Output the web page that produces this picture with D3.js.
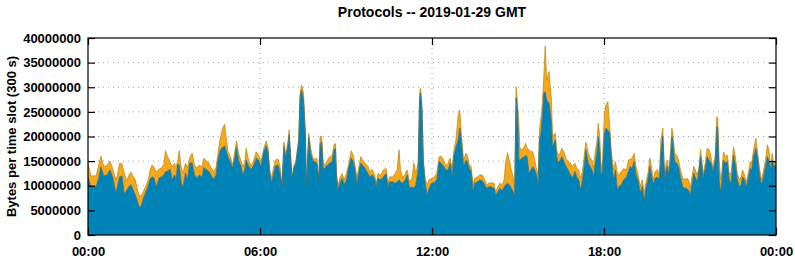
<!DOCTYPE html>
<html>
<head>
<meta charset="utf-8">
<script src="https://d3js.org/d3.v7.min.js"></script>
<style>
  body { margin: 0; background: #fff; }
  svg text { font-family: "Liberation Sans", Arial, sans-serif; font-weight: bold; fill: #000; }
</style>
</head>
<body>
<div id="chart"></div>
<script>
// minutes since 00:00 GMT
const minutes = [
  0,6,17,22,27,33,40,46,52,58,61,66,71,76,81,86,90,94,99,104,108,112,116,121,126,130,134,138,143,149,
  154,159,162,167,172,176,181,184,188,191,195,199,204,208,213,218,223,228,233,239,242,253,257,263,268,
  272,277,282,286,289,293,298,303,307,311,315,320,324,328,331,336,342,347,352,357,362,368,373,377,380,
  384,388,392,398,402,406,410,414,419,421,424,427,431,435,441,444,447,451,455,457,462,466,470,474,479,
  483,486,489,492,495,501,506,511,515,518,520,523,527,532,536,541,546,551,555,559,563,567,571,576,580,
  586,590,595,600,603,607,613,618,624,628,631,638,643,647,651,654,659,664,668,673,678,682,686,691,694,
  696,699,702,706,710,714,719,724,730,735,739,744,749,754,758,762,766,770,775,778,781,786,791,794,798,
  802,806,809,815,820,825,829,834,839,844,850,853,858,862,867,871,874,878,882,886,890,893,896,899,902,
  904,908,913,916,919,923,927,931,935,939,942,945,948,951,954,957,960,965,970,972,975,978,981,984,988,
  992,996,1000,1005,1010,1014,1019,1023,1027,1031,1035,1040,1042,1047,1051,1055,1058,1062,1065,1068,1071,
  1074,1077,1081,1084,1088,1092,1095,1100,1104,1108,1111,1116,1121,1127,1131,1135,1139,1143,1147,1151,
  1156,1160,1164,1168,1172,1176,1180,1183,1187,1192,1196,1199,1203,1207,1210,1212,1215,1219,1222,1224,
  1228,1232,1236,1240,1245,1249,1253,1257,1261,1264,1268,1271,1275,1279,1282,1285,1287,1292,1296,1300,
  1304,1308,1313,1316,1318,1321,1324,1327,1330,1334,1338,1342,1346,1351,1355,1359,1363,1367,1370,1374,
  1378,1382,1386,1389,1393,1398,1402,1406,1410,1414,1418,1422,1425,1429,1432,1435,1440
];

// stacked total, millions of bytes per slot
const totalMB = [
  14.6,12.0,12.0,14.0,16.0,13.8,14.2,15.0,13.4,11.2,12.0,14.6,14.4,12.6,11.0,12.2,12.8,12.0,11.2,8.9,7.9,8.1,8.9,9.9,11.2,13.2,14.2,13.8,12.8,13.4,
  13.6,14.4,17.1,15.8,14.8,13.8,14.6,13.6,15.2,17.1,13.8,12.6,14.6,13.6,15.8,16.6,14.2,13.6,14.2,13.8,15.6,14.6,13.7,12.9,13.7,
  16.6,19.8,21.7,22.5,20.0,16.9,15.9,14.2,16.9,19.1,16.6,15.2,13.9,14.6,17.6,15.2,14.0,15.2,16.9,16.2,14.9,17.6,19.1,17.6,13.5,
  11.5,13.5,15.2,15.4,13.9,10.2,18.9,16.2,19.3,21.3,16.6,11.8,14.2,14.9,19.6,28.8,30.5,28.8,21.0,10.5,20.7,17.6,15.9,15.4,15.6,
  11.5,20.0,20.0,15.2,14.0,15.2,15.9,16.2,18.3,18.6,12.5,9.8,11.5,12.5,11.2,12.5,14.6,17.1,16.2,14.0,11.5,13.9,15.9,14.9,14.6,
  13.9,12.9,13.3,12.2,10.4,12.5,12.2,13.2,13.5,10.2,11.8,11.8,12.5,13.2,17.3,13.2,11.5,12.5,13.2,10.8,11.5,14.6,12.5,14.6,28.8,
  29.8,26.7,15.2,11.2,10.2,11.2,11.5,11.7,12.5,15.9,16.0,15.4,14.0,14.6,15.6,13.5,17.3,19.3,24.4,25.4,21.3,15.2,16.6,16.2,14.2,
  13.9,10.2,11.5,11.8,12.2,12.2,11.5,10.2,10.5,10.6,10.5,8.8,9.8,10.5,10.2,11.2,14.6,16.7,15.2,13.2,11.8,9.1,30.1,27.1,22.0,
  17.6,17.3,17.9,18.6,17.6,17.3,16.9,16.9,15.2,13.2,12.2,21.3,23.7,26.7,32.1,38.4,31.5,33.2,27.4,20.7,20.0,20.7,17.3,16.2,16.6,
  17.6,16.9,15.6,14.9,14.6,13.9,14.6,13.5,13.2,11.5,12.9,17.3,18.9,16.6,15.6,15.2,13.5,17.3,18.6,22.7,20.0,
  13.2,15.2,24.7,26.4,27.1,22.0,17.3,13.2,14.9,12.5,12.2,12.9,13.5,13.2,15.2,15.4,15.6,16.6,13.9,12.5,
  9.8,11.2,8.5,10.8,12.5,15.6,13.5,11.2,12.9,13.3,11.8,19.3,21.7,11.8,14.6,15.2,13.2,16.6,21.7,20.7,
  16.6,16.2,15.2,13.2,11.5,11.3,11.5,11.2,9.5,11.8,13.9,13.2,12.2,13.9,17.4,15.2,12.2,14.6,17.6,17.3,
  15.9,13.5,16.2,24.0,23.7,15.2,11.2,13.2,16.9,15.9,16.2,12.5,12.5,17.9,15.9,12.5,11.2,11.8,13.2,12.2,
  10.8,12.5,14.9,14.6,17.3,19.6,16.2,13.2,11.2,13.2,15.2,18.3,17.3,13.9,16.6,14.6,14.9
];

// lower (blue) series, millions of bytes per slot
const blueMB = [
  11.8,9.9,9.9,11.4,13.8,12.0,12.2,13.2,11.6,8.7,9.5,11.8,12.0,8.3,9.1,9.9,10.2,9.3,8.1,6.7,5.5,6.1,7.5,8.7,9.9,11.4,11.8,11.6,9.7,11.6,
  11.8,12.2,12.8,13.0,13.4,11.2,12.2,11.4,14.4,14.2,10.6,9.7,12.6,11.2,14.6,14.6,12.2,11.6,12.2,11.8,13.7,12.9,12.2,11.3,12.2,
  15.2,17.3,17.8,18.1,17.1,15.8,14.9,13.5,15.6,17.8,15.2,14.0,12.2,13.2,15.2,14.0,13.3,14.2,15.6,15.2,13.9,16.9,18.1,16.6,12.9,
  10.6,12.2,14.0,14.2,12.5,9.8,17.9,15.6,18.6,20.3,15.9,11.5,13.5,14.6,18.9,28.1,29.4,27.4,20.3,10.2,19.8,16.6,15.2,14.9,14.6,
  11.2,18.6,18.9,13.5,13.5,14.2,14.6,14.9,17.3,17.6,12.2,9.1,10.5,11.5,10.2,11.2,13.9,15.6,14.9,13.2,10.2,12.9,14.6,14.0,13.5,
  12.5,11.8,12.2,11.5,9.8,11.5,11.2,11.8,12.5,9.5,10.8,10.8,10.5,10.8,11.2,10.8,10.5,11.2,12.2,9.5,9.8,9.5,10.2,13.2,27.4,
  28.8,25.4,14.6,10.2,8.1,9.5,10.5,10.6,11.2,14.9,14.6,14.0,13.2,13.2,14.6,11.8,16.2,17.8,19.3,21.7,19.3,13.9,15.2,14.9,13.5,
  12.9,8.8,10.5,10.8,11.2,11.0,10.5,9.5,9.8,9.8,9.5,8.1,8.8,9.5,9.0,9.8,10.2,10.5,10.2,9.5,8.8,7.8,27.8,25.0,15.2,
  15.2,15.6,15.9,16.2,15.9,12.5,13.2,13.9,13.2,12.2,10.2,19.3,20.7,24.0,28.8,29.1,27.4,26.7,22.7,17.9,18.6,19.3,15.9,14.6,15.2,
  15.9,14.9,14.0,13.2,12.2,11.5,12.9,11.8,11.2,9.1,11.2,15.2,17.3,14.6,13.9,13.2,11.8,14.6,16.6,20.0,17.3,
  11.8,13.2,20.7,21.7,21.3,20.7,15.9,11.2,13.2,9.1,9.8,10.2,11.2,11.8,12.9,13.9,13.5,14.9,12.2,11.2,
  8.5,9.8,7.1,9.5,11.2,13.9,11.8,10.2,11.5,11.8,11.2,16.6,20.0,11.2,13.2,13.9,12.2,15.2,20.0,18.9,
  14.9,14.6,13.9,11.8,9.8,9.5,9.5,9.1,8.1,10.2,12.5,11.8,10.8,13.2,15.9,13.9,11.5,13.5,15.9,15.2,
  14.6,12.9,15.2,22.0,21.3,11.2,8.5,11.2,15.2,14.6,14.9,11.2,10.5,16.2,14.2,11.2,9.8,10.2,11.8,11.2,
  9.8,11.5,13.5,13.2,15.9,17.6,15.2,11.8,10.2,11.8,13.9,15.9,15.2,13.2,15.2,14.2,13.9
];

const yTicks = [0, 5e6, 10e6, 15e6, 20e6, 25e6, 30e6, 35e6, 40e6];
const xTicks = [0, 360, 720, 1080, 1440];
const xTickLabels = ["00:00", "06:00", "12:00", "18:00", "00:00"];

const W = 795, H = 260;
const padL = 88, padR = 776, padT = 38, padB = 235;

const data = minutes.map((m, i) => ({
  t: m,
  blue: blueMB[i] * 1e6,
  orange: (totalMB[i] - blueMB[i]) * 1e6
}));

const x = d3.scaleLinear().domain([0, 1440]).range([padL, padR]);
const y = d3.scaleLinear().domain([0, 40e6]).range([padB, padT]);

const svg = d3.select("#chart").append("svg")
  .attr("width", W).attr("height", H);

// grid
svg.append("g")
  .selectAll("line")
  .data(yTicks.slice(1, -1))
  .enter().append("line")
  .attr("x1", padL).attr("x2", padR)
  .attr("y1", d => y(d)).attr("y2", d => y(d))
  .attr("stroke", "#a0a0a0").attr("stroke-dasharray", "1,4");

svg.append("g")
  .selectAll("line")
  .data(xTicks.slice(1, -1))
  .enter().append("line")
  .attr("y1", padT).attr("y2", padB)
  .attr("x1", d => x(d)).attr("x2", d => x(d))
  .attr("stroke", "#a0a0a0").attr("stroke-dasharray", "1,4");

// stacked areas
const stack = d3.stack().keys(["blue", "orange"]);
const layers = stack(data);
const fills = { blue: "#0083b6", orange: "#f6a81a" };
const edges = { blue: "#2b6c86", orange: "#c08c1e" };

const area = d3.area()
  .x(d => x(d.data.t))
  .y0(d => y(d[0]))
  .y1(d => y(d[1]));

const topLine = d3.line()
  .x(d => x(d.data.t))
  .y(d => y(d[1]));

svg.append("g")
  .selectAll("path")
  .data(layers)
  .enter().append("path")
  .attr("d", area)
  .attr("fill", d => fills[d.key]);

svg.append("g")
  .selectAll("path")
  .data(layers.slice().reverse())
  .enter().append("path")
  .attr("d", topLine)
  .attr("fill", "none")
  .attr("stroke", d => edges[d.key])
  .attr("stroke-width", 0.8);

// axes
const fmtTime = d => xTickLabels[xTicks.indexOf(d)];

svg.append("g")
  .attr("transform", `translate(${padL},0)`)
  .call(d3.axisLeft(y).tickValues(yTicks).tickFormat(d3.format("d")).tickSizeInner(-7).tickSizeOuter(0).tickPadding(7));

svg.append("g")
  .attr("transform", `translate(${padR},0)`)
  .call(d3.axisRight(y).tickValues(yTicks).tickFormat("").tickSizeInner(-7).tickSizeOuter(0));

svg.append("g")
  .attr("transform", `translate(0,${padT})`)
  .call(d3.axisTop(x).tickValues(xTicks).tickFormat("").tickSizeInner(-7).tickSizeOuter(0));

svg.append("g")
  .attr("transform", `translate(0,${padB})`)
  .call(d3.axisBottom(x).tickValues(xTicks).tickFormat(fmtTime).tickSizeInner(-7).tickSizeOuter(0).tickPadding(12));

svg.selectAll(".domain").remove();
svg.selectAll(".tick line").attr("stroke", "#000").attr("stroke-width", 1.2);
svg.selectAll(".tick text").style("font-size", "13px").style("font-family", "'Liberation Sans', Arial, sans-serif").style("font-weight", "bold");

// border
svg.append("rect")
  .attr("x", padL).attr("y", padT)
  .attr("width", padR - padL).attr("height", padB - padT)
  .attr("fill", "none").attr("stroke", "#000").attr("stroke-width", 1.2);

// title and label
svg.append("text")
  .attr("x", (padL + padR) / 2).attr("y", 17)
  .attr("text-anchor", "middle")
  .style("font-size", "14px")
  .text("Protocols -- 2019-01-29 GMT");

svg.append("text")
  .attr("transform", `translate(16,${(padT + padB) / 2}) rotate(-90)`)
  .attr("text-anchor", "middle")
  .style("font-size", "13px")
  .text("Bytes per time slot (300 s)");
</script>
</body>
</html>
